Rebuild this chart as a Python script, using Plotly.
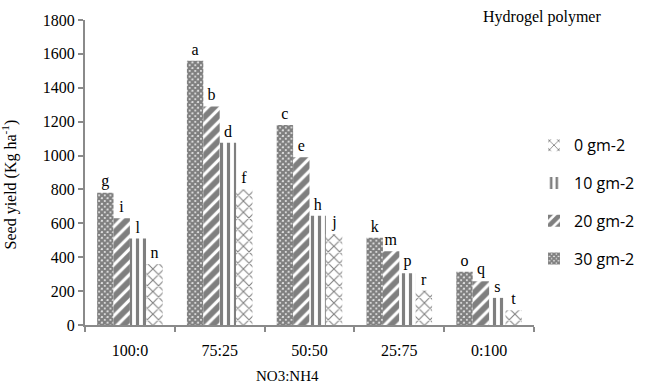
import plotly.graph_objects as go

categories = ["100:0", "75:25", "50:50", "25:75", "0:100"]
series_names = ["30 gm-2", "20 gm-2", "10 gm-2", "0 gm-2"]
vals_30 = [780, 1560, 1180, 515, 315]
vals_20 = [630, 1290, 990, 435, 258]
vals_10 = [510, 1075, 645, 305, 160]
vals_0 = [360, 800, 535, 203, 87]
letters_30 = ["g", "a", "c", "k", "o"]
letters_20 = ["i", "b", "e", "m", "q"]
letters_10 = ["l", "d", "h", "p", "s"]
letters_0 = ["n", "f", "j", "r", "t"]

serif = "Liberation Serif"
sans = "Open Sans"

patterns = [
    dict(shape="x", size=4, solidity=0.85, fgcolor="black", bgcolor="white"),
    dict(shape="/", size=9, solidity=0.65, fgcolor="black", bgcolor="white"),
    dict(shape="|", size=7, solidity=0.45, fgcolor="black", bgcolor="white"),
    dict(shape="x", size=8, solidity=0.25, fgcolor="black", bgcolor="white"),
]
values = [vals_30, vals_20, vals_10, vals_0]
letters = [letters_30, letters_20, letters_10, letters_0]
ranks = [4, 3, 2, 1]

fig = go.Figure()
for i, name in enumerate(series_names):
    fig.add_trace(go.Bar(
        x=categories, y=values[i], name=name,
        text=letters[i], textposition="outside",
        textfont=dict(family=serif, size=16, color="black"),
        marker=dict(color="white", pattern=patterns[i], line=dict(width=0)),
        legendgroup=name, legendrank=ranks[i], cliponaxis=False,
    ))

fig.update_layout(
    width=652, height=386,
    margin=dict(l=85, r=117, t=15, b=61),
    paper_bgcolor="white", plot_bgcolor="white",
    barmode="group", bargap=0.27, bargroupgap=0,
    showlegend=True,
    legend=dict(
        x=1.0, y=0.645, xanchor="left", yanchor="top",
        traceorder="grouped", tracegroupgap=14,
        font=dict(family=sans, size=16, color="black"),
        bgcolor="rgba(0,0,0,0)", itemwidth=30,
    ),
    font=dict(family=serif, color="black"),
)
fig.update_yaxes(
    range=[0, 1800], dtick=200, showgrid=False,
    showline=True, linecolor="#8a8a8a", linewidth=2,
    ticks="outside", ticklen=5, tickcolor="#8a8a8a", tickwidth=1.5,
    tickfont=dict(family=serif, size=16, color="black"),
    zeroline=False,
)
fig.update_xaxes(
    showgrid=False, showline=True, linecolor="#8a8a8a", linewidth=2,
    ticks="outside", tickson="boundaries", ticklen=5, tickcolor="#8a8a8a", tickwidth=1.5,
    tickfont=dict(family=serif, size=16, color="black"),
    ticklabelstandoff=10,
)

pw = 652 - 85 - 117
ph = 386 - 15 - 61


def px_to_paper(px, py):
    return (px - 85) / pw, (386 - 61 - py) / ph


ax, ay = px_to_paper(9, 182)
fig.add_annotation(text="Seed yield (Kg ha<sup>-1</sup>)", textangle=-90,
                   x=ax, y=ay, xref="paper", yref="paper", showarrow=False,
                   xanchor="center", yanchor="middle",
                   font=dict(family=serif, size=16, color="black"))
ax, ay = px_to_paper(288, 377)
fig.add_annotation(text="NO3:NH4", x=ax, y=ay, xref="paper", yref="paper",
                   showarrow=False, xanchor="center", yanchor="middle",
                   font=dict(family=serif, size=15, color="black"))
ax, ay = px_to_paper(543, 12)
fig.add_annotation(text="Hydrogel polymer", x=ax, y=ay, xref="paper", yref="paper",
                   showarrow=False, xanchor="center", yanchor="middle",
                   font=dict(family=serif, size=16, color="black"))

fig.write_html("out.html")
